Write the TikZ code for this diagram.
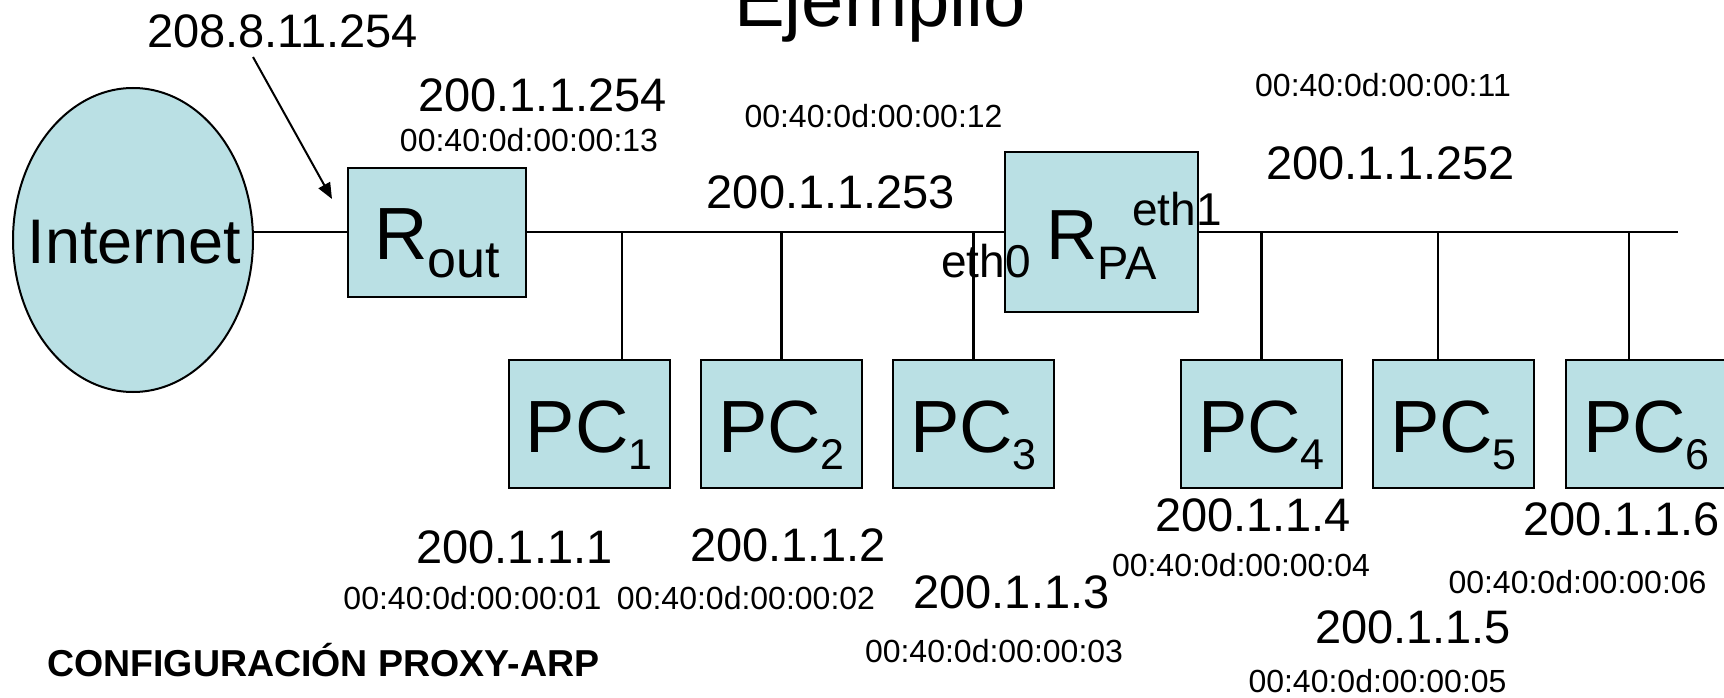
\documentclass[tikz,border=0pt]{standalone}
\usepackage{fontspec}
\setmainfont{Liberation Sans}
\usepackage{tikz}
\usetikzlibrary{shapes.geometric,arrows.meta}

\definecolor{netblue}{RGB}{186,224,228}
\newcommand{\ipsize}{\fontsize{47}{50}\selectfont}
\newcommand{\macsize}{\fontsize{32}{34}\selectfont}
\newcommand{\ethsize}{\fontsize{46}{48}\selectfont}
\newcommand{\pcname}[1]{PC\raisebox{-17pt}{\fontsize{43}{43}\selectfont #1}}

\begin{document}
\begin{tikzpicture}[x=1pt,y=-1pt,
    box/.style={draw, line width=2pt, fill=netblue, inner sep=0pt},
    pcbox/.style={box, minimum width=161pt, minimum height=128pt,
        font=\fontsize{74}{74}\selectfont, text height=56pt, text depth=0pt},
    ip/.style={anchor=base, inner sep=0pt, font=\ipsize},
    mac/.style={anchor=base, inner sep=0pt, font=\macsize},
    wire/.style={line width=2.8pt}]

    \useasboundingbox (0,0) rectangle (1724,698);
    \clip (0,0) rectangle (1724,698);

    \node[anchor=base, inner sep=0pt, font=\fontsize{76}{76}\selectfont] (title) at (880,27) {Ejemplio};

    % Internet and the outside router
    \node[box, ellipse, minimum width=240pt, minimum height=304pt] (internet) at (133,240) {};
    \node[anchor=base, inner sep=0pt, font=\fontsize{63}{63}\selectfont] (inettext) at ([shift={(1.5pt,-23pt)}]internet.center) {Internet};
    \node[box, minimum width=178pt, minimum height=129pt, font=\fontsize{74}{74}\selectfont,
        text height=55pt, text depth=0pt] (rout) at (437,232) {R\raisebox{-18pt}{\fontsize{52}{52}\selectfont out}};

    % proxy-ARP router
    \node[box, minimum width=193pt, minimum height=160pt, font=\fontsize{71}{71}\selectfont,
        text height=54pt, text depth=0pt] (rpa) at (1101.5,232) {R\raisebox{-20pt}{\fontsize{47}{47}\selectfont PA}};

    % hosts
    \node[pcbox] (pc1) at (589,424) {\pcname{1}};
    \node[pcbox] (pc2) at (781.5,424) {\pcname{2}};
    \node[pcbox] (pc3) at (973.5,424) {\pcname{3}};
    \node[pcbox] (pc4) at (1261.5,424) {\pcname{4}};
    \node[pcbox] (pc5) at (1453.5,424) {\pcname{5}};
    \node[pcbox] (pc6) at (1646.5,424) {\pcname{6}};

    % bus
    \coordinate (busend) at (1678,232);
    \draw[wire] (internet.east |- rout.west) -- (rout.west);
    \draw[wire] (rout.east) -- (rpa.west);
    \draw[wire] (rpa.east) -- (busend);
    \draw[wire] ([xshift=33pt]pc1.north) -- ([xshift=33pt]pc1.north |- rout.east);
    \draw[wire] (pc2.north) -- (pc2.north |- rout.east);
    \draw[wire] (pc3.north) -- (pc3.north |- rout.east);
    \draw[wire] (pc4.north) -- (pc4.north |- rpa.east);
    \draw[wire] ([xshift=-15.5pt]pc5.north) -- ([xshift=-15.5pt]pc5.north |- rpa.east);
    \draw[wire] ([xshift=-17.5pt]pc6.north) -- ([xshift=-17.5pt]pc6.north |- rpa.east);

    % addresses
    \node[ip] (wan) at (282.5,48) {208.8.11.254};
    \draw[line width=2pt, -{Triangle[length=16pt,width=13pt]}] ([shift={(-29.5pt,-9pt)}]wan.base) -- ([shift={(-15pt,33pt)}]rout.west);
    \node[ip] (iprout) at (542.5,112) {200.1.1.254};
    \node[mac] (macrout) at (529,151) {00:40:0d:00:00:13};
    \node[mac] (maceth0) at (873.5,128) {00:40:0d:00:00:12};
    \node[ip] (ipeth0) at (831,208) {200.1.1.253};
    \node[mac] (maceth1) at (1383,97) {00:40:0d:00:00:11};
    \node[ip] (ipeth1) at (1390.5,179) {200.1.1.252};
    \node[anchor=base, inner sep=0pt, font=\ethsize] (eth0) at (986,277) {eth0};
    \node[anchor=base, inner sep=0pt, font=\ethsize] (eth1) at (1177,225) {eth1};

    \node[ip] (ip1) at (514.5,563) {200.1.1.1};
    \node[mac] (mac1) at (472.5,609) {00:40:0d:00:00:01};
    \node[ip] (ip2) at (788,561) {200.1.1.2};
    \node[mac] (mac2) at (746,609) {00:40:0d:00:00:02};
    \node[ip] (ip3) at (1011.5,608) {200.1.1.3};
    \node[mac] (mac3) at (994,662) {00:40:0d:00:00:03};
    \node[ip] (ip4) at (1253,531) {200.1.1.4};
    \node[mac] (mac4) at (1241,576) {00:40:0d:00:00:04};
    \node[ip] (ip5) at (1413,643) {200.1.1.5};
    \node[mac] (mac5) at (1377.5,692) {00:40:0d:00:00:05};
    \node[ip] (ip6) at (1621.5,535) {200.1.1.6};
    \node[mac] (mac6) at (1577.5,593) {00:40:0d:00:00:06};

    \node[anchor=base west, inner sep=0pt, font=\bfseries\fontsize{37.5}{38}\selectfont] (caption) at (47,676) {CONFIGURACIÓN PROXY-ARP};

\end{tikzpicture}
\end{document}
